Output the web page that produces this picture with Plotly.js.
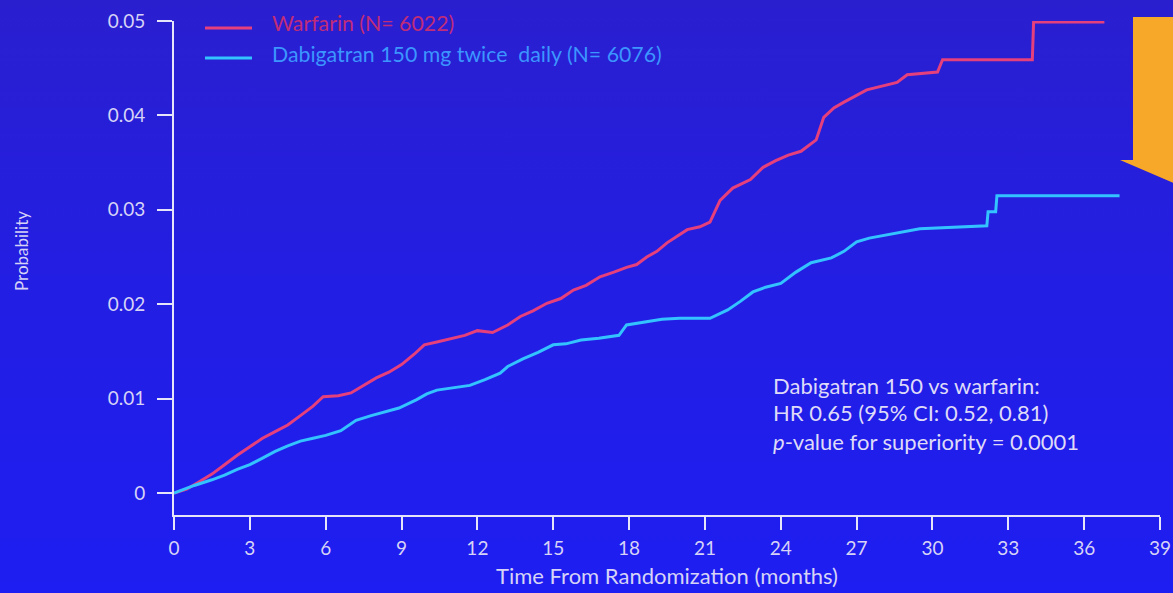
<!DOCTYPE html>
<html>
<head>
<meta charset="utf-8">
<script src="https://cdn.plot.ly/plotly-3.0.1.min.js"></script>
<style>
  html, body { margin: 0; padding: 0; }
  body {
    width: 1173px; height: 593px; overflow: hidden;
    background: linear-gradient(to bottom, #2a1fcf 0%, #231ee2 45%, #1e1ef2 100%);
  }
  #chart { width: 1173px; height: 593px; }
</style>
</head>
<body>
<div id="chart"></div>
<script>
// ---- Data ----
const warfarinMonths = [0, 0.5, 1.0, 1.5, 2.0, 2.5, 3.0, 3.5, 4.0, 4.5, 5.0, 5.5, 5.9, 6.5, 7.0, 7.5, 8.0, 8.5, 9.0, 9.5, 9.9, 10.4, 11.0, 11.5, 12.0, 12.6, 13.2, 13.7, 14.2, 14.75, 15.3, 15.8, 16.3, 16.85, 17.4, 17.9, 18.3, 18.7, 19.1, 19.5, 19.9, 20.3, 20.8, 21.2, 21.6, 22.1, 22.8, 23.3, 23.8, 24.3, 24.8, 25.4, 25.7, 26.1, 26.5, 27.4, 28.6, 29.0, 30.2, 30.4, 33.95, 34.0, 36.8];
const warfarinProb   = [0, 0.0004, 0.0012, 0.0020, 0.0030, 0.0040, 0.0049, 0.0058, 0.0065, 0.0072, 0.0082, 0.0092, 0.0102, 0.0103, 0.0106, 0.0114, 0.0122, 0.0128, 0.0136, 0.0147, 0.0157, 0.0160, 0.0164, 0.0167, 0.0172, 0.0170, 0.0178, 0.0187, 0.0193, 0.0201, 0.0206, 0.0215, 0.0220, 0.0229, 0.0234, 0.0239, 0.0242, 0.0250, 0.0256, 0.0265, 0.0272, 0.0279, 0.0282, 0.0287, 0.0310, 0.0323, 0.0332, 0.0345, 0.0352, 0.0358, 0.0362, 0.0374, 0.0398, 0.0408, 0.0414, 0.0427, 0.0435, 0.0443, 0.0446, 0.0459, 0.0459, 0.0499, 0.0499];

const dabigatranMonths = [0, 0.4, 0.8, 1.5, 2.0, 2.5, 3.0, 3.5, 4.0, 4.5, 5.0, 5.5, 6.0, 6.6, 7.2, 7.8, 8.4, 8.9, 9.6, 10.0, 10.4, 11.0, 11.7, 12.3, 12.9, 13.2, 13.8, 14.4, 15.0, 15.5, 16.1, 16.8, 17.6, 17.9, 18.7, 19.3, 20.0, 21.2, 21.9, 22.4, 22.9, 23.4, 24.0, 24.6, 25.2, 26.0, 26.5, 27.0, 27.5, 28.5, 29.5, 32.15, 32.2, 32.5, 32.55, 37.4];
const dabigatranProb   = [0, 0.0004, 0.0008, 0.0014, 0.0019, 0.0025, 0.0030, 0.0037, 0.0044, 0.0050, 0.0055, 0.0058, 0.0061, 0.0066, 0.0077, 0.0082, 0.0086, 0.0090, 0.0099, 0.0105, 0.0109, 0.0111, 0.0114, 0.0120, 0.0127, 0.0134, 0.0142, 0.0149, 0.0157, 0.0158, 0.0162, 0.0164, 0.0167, 0.0178, 0.0181, 0.0184, 0.0185, 0.0185, 0.0194, 0.0203, 0.0213, 0.0218, 0.0222, 0.0234, 0.0244, 0.0249, 0.0256, 0.0266, 0.0270, 0.0275, 0.0280, 0.0283, 0.0298, 0.0298, 0.0315, 0.0315];

const xTickVals = [0, 3, 6, 9, 12, 15, 18, 21, 24, 27, 30, 33, 36, 39];
const yTickVals = [0, 0.01, 0.02, 0.03, 0.04, 0.05];
const yTickText = ['0', '0.01', '0.02', '0.03', '0.04', '0.05'];

const seriesNames = ['Warfarin (N= 6022)', 'Dabigatran 150 mg twice  daily (N= 6076)'];
const statLines = ['Dabigatran 150 vs warfarin:', 'HR 0.65 (95% CI: 0.52, 0.81)', '<i>p</i>-value for superiority = 0.0001'];
const xTitle = 'Time From Randomization (months)';
const yTitle = 'Probability';

// ---- Styling ----
const FONT = 'Lato, "Open Sans", sans-serif';
const TXT = '#d6d3f6';
const AXIS = '#e6e4f8';
const RED = '#e5407c';
const CYAN = '#33c4ff';

const traces = [
  { x: warfarinMonths, y: warfarinProb, name: seriesNames[0], type: 'scatter', mode: 'lines',
    line: { color: RED, width: 3 }, showlegend: false, cliponaxis: false },
  { x: dabigatranMonths, y: dabigatranProb, name: seriesNames[1], type: 'scatter', mode: 'lines',
    line: { color: CYAN, width: 3 }, showlegend: false, cliponaxis: false }
];

const W = 1173, H = 593, L = 174, R = 13, T = 21, B = 78;
const pw = W - L - R, ph = H - T - B;
const px = v => (v - L) / pw;           // pixel -> paper x
const py = v => (H - B - v) / ph;       // pixel -> paper y

const annotations = [
  { text: seriesNames[0], x: px(270), y: py(23), xref: 'paper', yref: 'paper', xanchor: 'left', yanchor: 'middle',
    showarrow: false, font: { family: FONT, size: 21.3, color: '#c02c78' } },
  { text: seriesNames[1], x: px(270), y: py(54), xref: 'paper', yref: 'paper', xanchor: 'left', yanchor: 'middle',
    showarrow: false, font: { family: FONT, size: 21.3, color: '#3c96ff' } },
  ...statLines.map((t, i) => ({
    text: t, x: px(771), y: py(385 + 28 * i), xref: 'paper', yref: 'paper', xanchor: 'left', yanchor: 'middle',
    showarrow: false, font: { family: FONT, size: 22, color: '#dedaf8' } })),
  { text: yTitle, x: px(22), y: py(251), xref: 'paper', yref: 'paper', xanchor: 'center', yanchor: 'middle',
    textangle: -90, showarrow: false, font: { family: FONT, size: 17, color: TXT } }
];

const shapes = [
  { type: 'line', xref: 'paper', yref: 'paper', x0: px(205), x1: px(252), y0: py(28), y1: py(28),
    line: { color: RED, width: 3 } },
  { type: 'line', xref: 'paper', yref: 'paper', x0: px(205), x1: px(252), y0: py(58), y1: py(58),
    line: { color: CYAN, width: 3 } },
  { type: 'path', xref: 'paper', yref: 'paper', layer: 'above',
    path: `M ${px(1133)} ${py(17)} L ${px(1185)} ${py(17)} L ${px(1185)} ${py(188)} L ${px(1120)} ${py(160)} L ${px(1133)} ${py(160)} Z`,
    fillcolor: '#f7a828', line: { width: 0 } }
];

const layout = {
  width: W, height: H,
  margin: { l: L, r: R, t: T, b: B, pad: 0 },
  paper_bgcolor: 'rgba(0,0,0,0)',
  plot_bgcolor: 'rgba(0,0,0,0)',
  font: { family: FONT, color: TXT },
  showlegend: false,
  xaxis: {
    range: [0, 39], tickvals: xTickVals, showgrid: false, zeroline: false,
    showline: true, linecolor: AXIS, linewidth: 2,
    ticks: 'outside', ticklen: 13, tickwidth: 2, tickcolor: AXIS,
    tickfont: { family: FONT, size: 19, color: TXT }, ticklabelstandoff: 2,
    title: { text: xTitle, font: { family: FONT, size: 22, color: TXT }, standoff: 11 }
  },
  yaxis: {
    range: [-0.00233, 0.05], tickvals: yTickVals, ticktext: yTickText, showgrid: false, zeroline: false,
    showline: true, linecolor: AXIS, linewidth: 2,
    ticks: 'outside', ticklen: 15, tickwidth: 2, tickcolor: AXIS,
    tickfont: { family: FONT, size: 19, color: TXT }, ticklabelstandoff: 8
  },
  annotations: annotations,
  shapes: shapes
};

Plotly.newPlot('chart', traces, layout, { displayModeBar: false, staticPlot: true });
</script>
</body>
</html>
